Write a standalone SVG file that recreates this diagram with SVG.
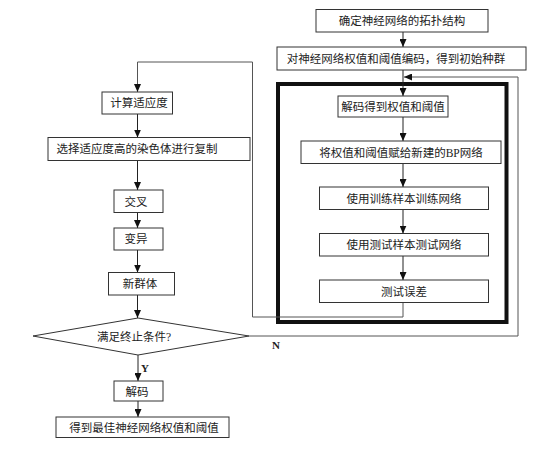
<svg xmlns="http://www.w3.org/2000/svg" width="551" height="453" viewBox="0 0 551 453">
<defs>
<style>
rect.b{fill:#fff;stroke:#333;stroke-width:1}
.t{font-family:"Liberation Serif","Noto Sans CJK SC",serif;font-size:11.5px;fill:#222;text-anchor:middle}
.l{font-family:"Liberation Serif","Noto Sans CJK SC",serif;font-size:11px;font-weight:bold;fill:#222}
.c{fill:none;stroke:#222;stroke-width:1}
.g{fill:none;stroke:#555;stroke-width:1}
</style>
<marker id="ah" markerWidth="8" markerHeight="7" refX="8" refY="3.5" orient="auto" markerUnits="userSpaceOnUse">
<path d="M0,0 L8,3.5 L0,7 z" fill="#111"/>
</marker>
</defs>
<rect width="551" height="453" fill="#fff"/>

<g id="frame">
<rect x="278" y="84" width="228.5" height="238" fill="none" stroke="#111" stroke-width="4"/>
</g>

<g id="connectors">
<path class="c" d="M403,32 V47" marker-end="url(#ah)"/>
<path class="c" d="M403,70 V96" marker-end="url(#ah)"/>
<path class="g" d="M249,336 H518 V77 H404" marker-end="url(#ah)"/>
<path class="c" d="M403,117 V141" marker-end="url(#ah)"/>
<path class="c" d="M403,163.5 V187" marker-end="url(#ah)"/>
<path class="c" d="M403,209.5 V233.5" marker-end="url(#ah)"/>
<path class="c" d="M403,256 V280" marker-end="url(#ah)"/>
<path class="g" d="M403,302.5 V317 H252.5 V62 H137.5 V92" marker-end="url(#ah)"/>
<path class="c" d="M137.5,114 V137.5" marker-end="url(#ah)"/>
<path class="c" d="M137.5,160.5 V190" marker-end="url(#ah)"/>
<path class="c" d="M137.5,212.5 V228" marker-end="url(#ah)"/>
<path class="c" d="M137.5,250 V272.5" marker-end="url(#ah)"/>
<path class="c" d="M137.5,295 V318" marker-end="url(#ah)"/>
<path class="c" d="M138,355 V381" marker-end="url(#ah)"/>
<path class="c" d="M138,401 V417" marker-end="url(#ah)"/>
<text class="l" x="272" y="349">N</text>
<text class="l" x="141" y="372">Y</text>
</g>

<g id="n_topo"><rect class="b" x="316" y="9.5" width="172" height="22.5"/><text class="t" x="402" y="25">确定神经网络的拓扑结构</text></g>
<g id="n_encode"><rect class="b" x="277" y="47" width="249" height="23"/><text class="t" x="396" y="63">对神经网络权值和阈值编码，得到初始种群</text></g>
<g id="n_decode1"><rect class="b" x="338" y="96" width="110" height="21"/><text class="t" x="393" y="111">解码得到权值和阈值</text></g>
<g id="n_assign"><rect class="b" x="301" y="141" width="200" height="22.5"/><text class="t" x="401" y="156.5">将权值和阈值赋给新建的BP网络</text></g>
<g id="n_train"><rect class="b" x="319.5" y="187" width="169" height="22.5"/><text class="t" x="404" y="202.5">使用训练样本训练网络</text></g>
<g id="n_test"><rect class="b" x="319.5" y="233.5" width="169" height="22.5"/><text class="t" x="404" y="249">使用测试样本测试网络</text></g>
<g id="n_err"><rect class="b" x="319.5" y="280" width="169" height="22.5"/><text class="t" x="404" y="295.5">测试误差</text></g>

<g id="n_fit"><rect class="b" x="102" y="92" width="70.5" height="22"/><text class="t" x="139" y="107">计算适应度</text></g>
<g id="n_select"><rect class="b" x="48" y="137.5" width="202" height="23"/><text class="t" x="137" y="153">选择适应度高的染色体进行复制</text></g>
<g id="n_cross"><rect class="b" x="114" y="190" width="49" height="22.5"/><text class="t" x="136" y="205.5">交叉</text></g>
<g id="n_mut"><rect class="b" x="114" y="228" width="49" height="22"/><text class="t" x="136" y="243">变异</text></g>
<g id="n_newpop"><rect class="b" x="108.5" y="272.5" width="66" height="22.5"/><text class="t" x="140" y="288">新群体</text></g>
<g id="n_cond"><path d="M138,318 L249,336 L138,355 L33,336 Z" fill="#fff" stroke="#333" stroke-width="1"/><text class="t" x="134" y="341">满足终止条件?</text></g>
<g id="n_decode2"><rect class="b" x="114" y="381" width="49" height="20"/><text class="t" x="137" y="395.5">解码</text></g>
<g id="n_best"><rect class="b" x="56" y="417" width="173" height="20.5"/><text class="t" x="144" y="431.5">得到最佳神经网络权值和阈值</text></g>
</svg>
